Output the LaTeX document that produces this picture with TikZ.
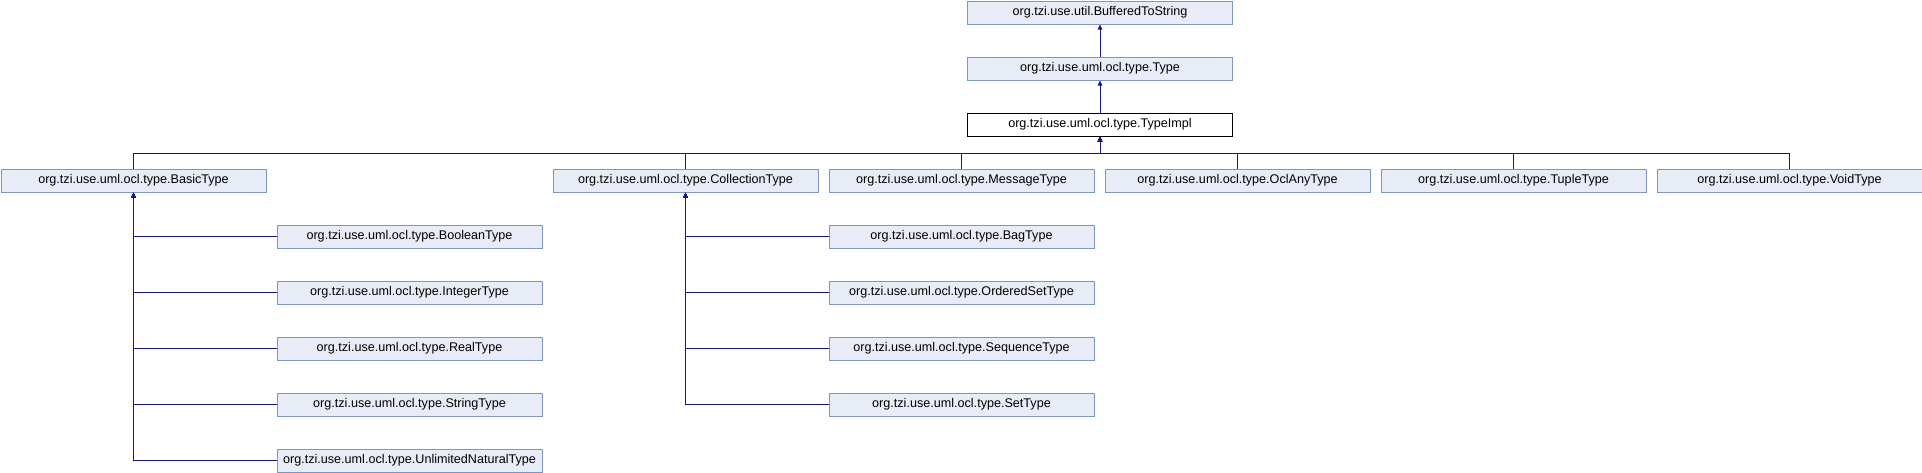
\documentclass[tikz,border=0pt]{standalone}
\usepackage{fontspec}
\setmainfont{Liberation Sans}
\usetikzlibrary{arrows.meta,calc}
\definecolor{boxfill}{RGB}{232,236,246}
\definecolor{boxline}{RGB}{125,148,204}
\definecolor{edgecol}{RGB}{20,20,150}
\tikzset{
  cls/.style={draw=boxline, fill=boxfill, line width=1pt, rectangle, minimum width=265pt, minimum height=23pt, inner sep=0pt, anchor=north west, font=\fontsize{12.6}{14}\selectfont},
  focus/.style={cls, draw=black, fill=white},
  edge/.style={draw=edgecol, line width=1pt, -{Triangle[length=5pt,width=4.5pt]}}
}
\begin{document}
\begin{tikzpicture}[x=1pt,y=-1pt]
\useasboundingbox (0,0) rectangle (1922,472);
% top chain
\node[cls] (buf) at (967,0.5) {org.tzi.use.util.BufferedToString};
\node[cls] (type) at (967,56.5) {org.tzi.use.uml.ocl.type.Type};
\node[focus] (impl) at (967,112.5) {org.tzi.use.uml.ocl.type.TypeImpl};
% row 3
\node[cls] (basic) at (0.5,168.5) {org.tzi.use.uml.ocl.type.BasicType};
\node[cls] (coll) at (552.5,168.5) {org.tzi.use.uml.ocl.type.CollectionType};
\node[cls] (msg) at (828.5,168.5) {org.tzi.use.uml.ocl.type.MessageType};
\node[cls] (ocl) at (1104.5,168.5) {org.tzi.use.uml.ocl.type.OclAnyType};
\node[cls] (tuple) at (1380.5,168.5) {org.tzi.use.uml.ocl.type.TupleType};
\node[cls] (void) at (1656.5,168.5) {org.tzi.use.uml.ocl.type.VoidType};
% basic children
\node[cls] (bool) at (276.5,224.5) {org.tzi.use.uml.ocl.type.BooleanType};
\node[cls] (int) at (276.5,280.5) {org.tzi.use.uml.ocl.type.IntegerType};
\node[cls] (real) at (276.5,336.5) {org.tzi.use.uml.ocl.type.RealType};
\node[cls] (str) at (276.5,392.5) {org.tzi.use.uml.ocl.type.StringType};
\node[cls] (unl) at (276.5,448.5) {org.tzi.use.uml.ocl.type.UnlimitedNaturalType};
% collection children
\node[cls] (bag) at (828.5,224.5) {org.tzi.use.uml.ocl.type.BagType};
\node[cls] (oset) at (828.5,280.5) {org.tzi.use.uml.ocl.type.OrderedSetType};
\node[cls] (seq) at (828.5,336.5) {org.tzi.use.uml.ocl.type.SequenceType};
\node[cls] (set) at (828.5,392.5) {org.tzi.use.uml.ocl.type.SetType};
% edges
\draw[edge] (type.north) -- (buf.south);
\draw[edge] (impl.north) -- (type.south);
\coordinate (bus) at ($(impl.south)+(0,17)$);
\foreach \c in {basic,coll,msg,ocl,tuple,void}
  \draw[edge] (\c.north) |- (bus) -- (impl.south);
\foreach \c in {bool,int,real,str,unl}
  \draw[edge] (\c.west) -| (basic.south);
\foreach \c in {bag,oset,seq,set}
  \draw[edge] (\c.west) -| (coll.south);
\end{tikzpicture}
\end{document}
